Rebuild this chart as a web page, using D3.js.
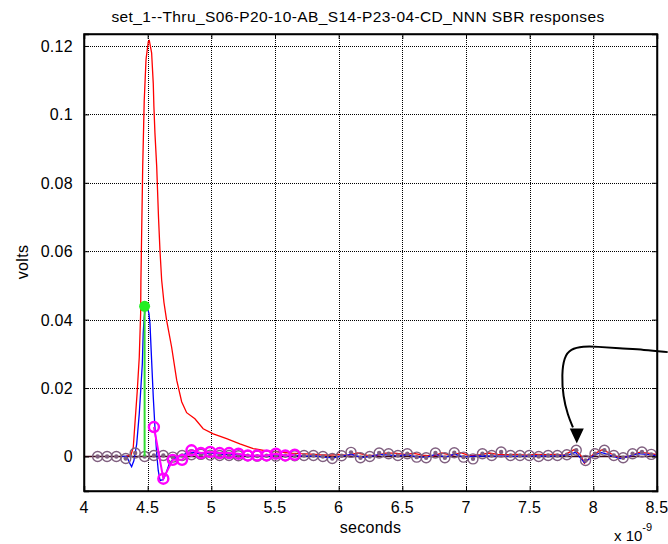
<!DOCTYPE html>
<html>
<head>
<meta charset="utf-8">
<script src="https://d3js.org/d3.v7.min.js"></script>
<style>
  body { margin: 0; background: #fff; }
  text { font-family: "Liberation Sans", Arial, sans-serif; fill: #000; }
</style>
</head>
<body>
<div id="chart"></div>
<script>
// x values in units of 1e-9 s (ns), y values in volts
var xTicks = [4, 4.5, 5, 5.5, 6, 6.5, 7, 7.5, 8, 8.5];
var yTicks = [0, 0.02, 0.04, 0.06, 0.08, 0.1, 0.12];

// red pulse response
var redX = [4.33, 4.37, 4.387, 4.400, 4.418, 4.434, 4.445, 4.447, 4.461, 4.473, 4.487, 4.505, 4.513,
  4.531, 4.544, 4.549, 4.557, 4.571, 4.585, 4.597, 4.610, 4.628, 4.649, 4.688, 4.728, 4.767, 4.806, 4.871,
  4.936, 5.015, 5.120, 5.224, 5.329, 5.434, 5.538, 5.62, 5.70, 5.78, 5.85, 5.93, 6.00, 6.07, 6.15, 6.22,
  6.30, 6.37, 6.44, 6.52, 6.59, 6.66, 6.74, 6.81, 6.89, 6.96, 7.03, 7.11, 7.18, 7.25, 7.33, 7.40, 7.47,
  7.55, 7.62, 7.70, 7.77, 7.85, 7.90, 7.93, 8.00, 8.07, 8.14, 8.21, 8.29, 8.36, 8.43, 8.50];
var redY = [0, 0.0005, 0.0027, 0.0096, 0.019, 0.029, 0.042, 0.0515, 0.0847, 0.104, 0.116, 0.1213, 0.1216,
  0.118, 0.109, 0.1023, 0.0946, 0.0847, 0.070, 0.060, 0.0515, 0.045, 0.0398, 0.032, 0.0223, 0.0160, 0.0128, 0.011,
  0.0081, 0.0066, 0.0052, 0.0037, 0.0023, 0.0016, 0.0013, 0.0010, 0.0008, 0.0007, 0.0005, 0.0004, 0.0006, 0.0003, 0.0010, 0.0004,
  0.0003, 0.0010, 0.0010, 0.0006, 0.0009, 0.0004, 0.0001, 0.0010, 0.0003, 0.0011, 0.0002, 0.0005, 0.0010, 0.0006, 0.0005, 0.0006, 0.0004,
  0.0006, 0.0005, 0.0006, 0.0004, 0.0020, 0.0004, -0.0020, 0.0006, 0.0020, 0.0008, -0.0005, 0.0001, 0.0012, 0.0010, 0.0005];

// blue response
var blueX = [4.30, 4.335, 4.361, 4.374, 4.392, 4.414, 4.434, 4.447, 4.458, 4.465, 4.473, 4.484, 4.500,
  4.510, 4.518, 4.531, 4.544, 4.557, 4.571, 4.583, 4.597, 4.622, 4.644, 4.670, 4.701, 4.75, 4.80, 4.85, 4.92,
  5.00, 5.08, 5.15, 5.23, 5.30, 5.37, 5.45, 5.52, 5.59, 5.66, 5.74, 5.81, 5.88, 5.96, 6.03, 6.10, 6.18,
  6.25, 6.32, 6.40, 6.47, 6.54, 6.62, 6.69, 6.76, 6.84, 6.91, 6.98, 7.06, 7.13, 7.20, 7.28, 7.35, 7.42,
  7.50, 7.57, 7.64, 7.72, 7.80, 7.86, 7.93, 8.00, 8.06, 8.13, 8.21, 8.28, 8.35, 8.42, 8.50];
var blueY = [0, 0, -0.0021, -0.003, -0.0012, 0.0037, 0.0125, 0.0203, 0.027, 0.036, 0.0408, 0.0437, 0.0432,
  0.0418, 0.0389, 0.0281, 0.0174, 0.0086, 0.0008, -0.0041, -0.007, -0.0068, -0.005, -0.0021, -0.0007, 0, 0.0008, 0.0012, 0.0007,
  0.0010, 0.0006, 0.0006, 0.0004, 0.0001, 0.0002, 0.0001, 0.0005, 0.0001, 0.0003, 0.0001, 0.0002, -0.0002, -0.0004, 0.0002, 0.0006, -0.0003,
  0, 0.0006, 0.0004, 0.0002, 0.0005, -0.0002, -0.0002, 0.0006, -0.0002, 0.0007, -0.0002, 0.0001, 0.0002, 0.0001, 0.0001, 0, 0.0001,
  0.0001, 0.0002, 0.0001, 0.0002, 0.0004, 0.0012, -0.0018, 0.0002, 0.0012, 0.0004, -0.0006, 0, 0.0008, 0.0006, 0.0002];

// sample points (purple circles)
var sampleX = [4.107, 4.181, 4.254, 4.328, 4.402, 4.476, 4.549, 4.623, 4.697, 4.770, 4.844, 4.918, 4.991, 5.065, 5.139,
  5.213, 5.286, 5.360, 5.434, 5.507, 5.581, 5.655, 5.728, 5.802, 5.876, 5.950, 6.023, 6.097, 6.171, 6.244,
  6.318, 6.392, 6.465, 6.539, 6.613, 6.687, 6.760, 6.834, 6.908, 6.981, 7.055, 7.129, 7.202, 7.276, 7.350,
  7.424, 7.497, 7.571, 7.645, 7.718, 7.792, 7.866, 7.939, 8.013, 8.087, 8.161, 8.234, 8.308, 8.382, 8.455];
var sampleY = [0, 0, 0, -0.0006, 0.001, 0, 0.0003, 0.0003, -0.0002, 0.0003, 0.0005, 0.0006, 0.0004, 0.0003, 0.0003,
  0.0002, 0.0002, 0.0001, 0.0002, 0.0001, 0.0002, 0.0002, 0.0003, 0.0003, 0, -0.0006, 0.0002, 0.0012, -0.0004, 0,
  0.001, 0.0008, 0.0003, 0.0008, -0.0002, -0.0004, 0.001, -0.0004, 0.0011, -0.0002, -0.0007, 0.0008, 0.0003, 0.0013, 0.0003,
  0.0003, 0.0003, 0, 0.0003, 0.0003, 0.0005, 0.0018, -0.0012, 0.0008, 0.0018, 0.0003, -0.0004, 0.0008, 0.0013, 0.0006];

// highlighted samples (magenta)
var pickX = [4.549, 4.623, 4.697, 4.770, 4.844, 4.918, 4.991, 5.065, 5.139, 5.213, 5.286, 5.360, 5.434, 5.507, 5.581, 5.655];
var pickY = [0.0086, -0.0065, -0.001, -0.001, 0.0018, 0.001, 0.0013, 0.001, 0.001, 0.0008, 0.0003, 0.0003, 0.0003, 0.0008, 0.0003, 0.0005];

// cursor (green)
var cursorX = 4.476;
var cursorY = 0.0439;

// annotation arrow, in data units
var arrowX = [8.584, 8.40, 8.20, 8.03, 7.92, 7.82, 7.77, 7.752, 7.762, 7.800, 7.840];
var arrowY = [0.0305, 0.0312, 0.0316, 0.0321, 0.0322, 0.0314, 0.0290, 0.0240, 0.0175, 0.0120, 0.0085];

var svgWidth = 668;
var svgHeight = 544;

var margin = { top: 34, right: 11, bottom: 53, left: 84 };
var width = svgWidth - margin.left - margin.right;
var height = svgHeight - margin.top - margin.bottom;

var svg = d3.select("#chart")
  .append("svg")
  .attr("width", svgWidth)
  .attr("height", svgHeight)
  .style("background", "#fff");

var chartGroup = svg.append("g")
  .attr("transform", `translate(${margin.left}, ${margin.top})`);

var x = d3.scaleLinear().domain([4, 8.5]).range([0, width]);
var y = d3.scaleLinear().domain([-0.0101, 0.1235]).range([height, 0]);

// dotted grid lines, snapped to pixels so the dots stay dark
var snap = v => Math.round(v) + 0.5;
chartGroup.append("g").selectAll("line")
  .data(xTicks.slice(1, -1))
  .enter().append("line")
  .attr("x1", d => snap(x(d))).attr("x2", d => snap(x(d)))
  .attr("y1", 0).attr("y2", height)
  .attr("stroke", "#000").attr("stroke-width", 1)
  .attr("shape-rendering", "crispEdges")
  .attr("stroke-dasharray", "1,1");

chartGroup.append("g").selectAll("line")
  .data(yTicks)
  .enter().append("line")
  .attr("x1", 0).attr("x2", width)
  .attr("y1", d => snap(y(d))).attr("y2", d => snap(y(d)))
  .attr("stroke", "#000").attr("stroke-width", 1)
  .attr("shape-rendering", "crispEdges")
  .attr("stroke-dasharray", "1,1");

// zero line
chartGroup.append("line")
  .attr("x1", x(4)).attr("x2", x(8.5))
  .attr("y1", y(0)).attr("y2", y(0))
  .attr("stroke", "#3c0818").attr("stroke-width", 1.5);

var line = d3.line().x(d => x(d[0])).y(d => y(d[1]));

chartGroup.append("path")
  .attr("d", line(d3.zip(redX, redY)))
  .attr("fill", "none").attr("stroke", "#ff0000").attr("stroke-width", 1.3);

chartGroup.append("path")
  .attr("d", line(d3.zip(blueX, blueY)))
  .attr("fill", "none").attr("stroke", "#0000ff").attr("stroke-width", 1.3);

// purple sample circles
var samples = d3.zip(sampleX, sampleY);
chartGroup.append("g").selectAll("circle")
  .data(samples)
  .enter().append("circle")
  .attr("cx", d => x(d[0])).attr("cy", d => y(d[1]))
  .attr("r", 5)
  .attr("fill", "none").attr("stroke", "#806080").attr("stroke-width", 1.4);

chartGroup.append("g").selectAll("circle")
  .data(samples)
  .enter().append("circle")
  .attr("cx", d => x(d[0])).attr("cy", d => y(d[1]))
  .attr("r", 2.2)
  .attr("fill", "#806080");

// magenta picks
var picks = d3.zip(pickX, pickY);
chartGroup.append("path")
  .attr("d", line(picks))
  .attr("fill", "none").attr("stroke", "#ff00ff").attr("stroke-width", 2);

chartGroup.append("g").selectAll("circle")
  .data(picks)
  .enter().append("circle")
  .attr("cx", d => x(d[0])).attr("cy", d => y(d[1]))
  .attr("r", 5)
  .attr("fill", "none").attr("stroke", "#ff00ff").attr("stroke-width", 2.4);

// green cursor
chartGroup.append("line")
  .attr("x1", x(cursorX)).attr("x2", x(cursorX))
  .attr("y1", y(0)).attr("y2", y(cursorY))
  .attr("stroke", "#33dd33").attr("stroke-width", 2);

chartGroup.append("circle")
  .attr("cx", x(cursorX)).attr("cy", y(cursorY))
  .attr("r", 5.5)
  .attr("fill", "#22ee22");

// axes box with inward ticks
chartGroup.append("g").call(d3.axisBottom(x).tickValues(xTicks).tickSize(-5).tickFormat(""))
  .attr("transform", `translate(0, ${height})`);
chartGroup.append("g").call(d3.axisTop(x).tickValues(xTicks).tickSize(-5).tickFormat(""));
chartGroup.append("g").call(d3.axisLeft(y).tickValues(yTicks).tickSize(-5).tickFormat(""));
chartGroup.append("g").call(d3.axisRight(y).tickValues(yTicks).tickSize(-5).tickFormat(""))
  .attr("transform", `translate(${width}, 0)`);
chartGroup.selectAll(".domain").attr("stroke", "#000").attr("stroke-width", 1.5);
chartGroup.selectAll(".tick line").attr("stroke", "#000");

chartGroup.append("rect")
  .attr("width", width).attr("height", height)
  .attr("fill", "none").attr("stroke", "#000").attr("stroke-width", 1.5);

// tick labels
chartGroup.append("g").selectAll("text")
  .data(xTicks)
  .enter().append("text")
  .attr("x", d => x(d)).attr("y", height + 22)
  .attr("text-anchor", "middle").attr("font-size", "16px").attr("letter-spacing", "0.3px")
  .text(d => d);

chartGroup.append("g").selectAll("text")
  .data(yTicks)
  .enter().append("text")
  .attr("x", -11).attr("y", d => y(d) + 6)
  .attr("text-anchor", "end").attr("font-size", "16px").attr("letter-spacing", "0.3px")
  .text(d => d);

// labels
svg.append("text")
  .attr("x", 358).attr("y", 22)
  .attr("text-anchor", "middle").attr("font-size", "15.5px").attr("letter-spacing", "0.4px")
  .text("set_1--Thru_S06-P20-10-AB_S14-P23-04-CD_NNN SBR responses");

svg.append("text")
  .attr("x", margin.left + width / 2).attr("y", 533)
  .attr("text-anchor", "middle").attr("font-size", "16px").attr("letter-spacing", "0.3px")
  .text("seconds");

svg.append("text")
  .attr("transform", "translate(28, 262) rotate(-90)")
  .attr("text-anchor", "middle").attr("font-size", "16px").attr("letter-spacing", "0.3px")
  .text("volts");

var expo = svg.append("text")
  .attr("x", 614).attr("y", 541)
  .attr("font-size", "15px");
expo.append("tspan").text("x 10");
expo.append("tspan").attr("dy", -10).attr("font-size", "11px").text("-9");

// annotation arrow
chartGroup.append("path")
  .attr("d", d3.line().curve(d3.curveBasis).x(d => x(d[0])).y(d => y(d[1]))(d3.zip(arrowX, arrowY)))
  .attr("fill", "none").attr("stroke", "#000").attr("stroke-width", 2);

var tip = [7.870, 0.0038];
var baseL = [7.815, 0.0082];
var baseR = [7.925, 0.0082];
chartGroup.append("path")
  .attr("d", `M${x(tip[0])},${y(tip[1])}L${x(baseL[0])},${y(baseL[1])}L${x(baseR[0])},${y(baseR[1])}Z`)
  .attr("fill", "#000");
</script>
</body>
</html>
